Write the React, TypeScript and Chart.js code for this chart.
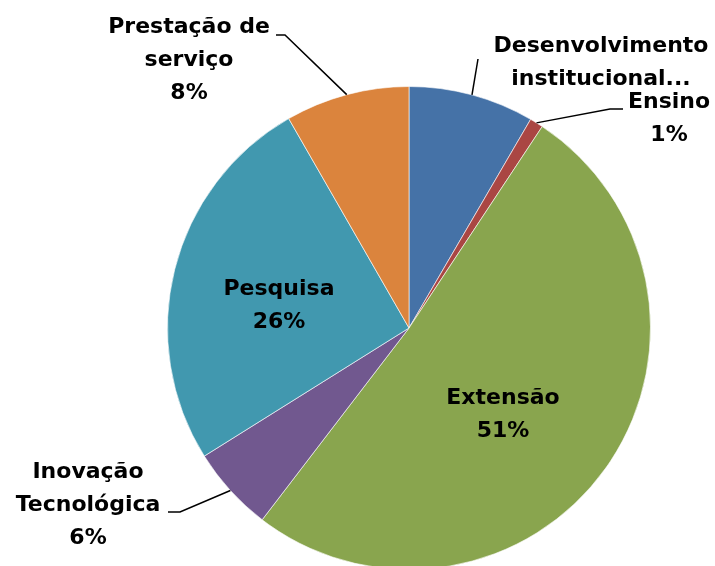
import React, { useEffect, useRef } from "react";
import { Chart, registerables } from "chart.js";
Chart.register(...registerables);

const categories = [
  "Desenvolvimento institucional",
  "Ensino",
  "Extensão",
  "Inovação Tecnológica",
  "Pesquisa",
  "Prestação de serviço",
];
const values = [8.4, 0.9, 51.1, 5.7, 25.6, 8.3];
const colors = ["#4572A7", "#AA4643", "#89A54E", "#71588F", "#4198AF", "#DB843D"];
// wrapped label text per slice (percent appended unless hidden)
const labelText = [
  ["Desenvolvimento", "institucional..."],
  ["Ensino"],
  ["Extensão"],
  ["Inovação", "Tecnológica"],
  ["Pesquisa"],
  ["Prestação de", "serviço"],
];
const showPercent = [false, true, true, true, true, true];

// label layout: first-line center and leader-line points (label end → elbow)
const labelLayout = [
  { x: 601, y: 46, leader: [[478, 59]] },
  { x: 669, y: 102, leader: [[623, 109], [610, 109]] },
  { x: 503, y: 398, leader: [] },
  { x: 88, y: 472, leader: [[168, 512], [180, 512]] },
  { x: 279, y: 289, leader: [] },
  { x: 189, y: 27, leader: [[276, 35], [285, 35]] },
];

const FONT = 'bold 22px "DejaVu Sans", sans-serif';
const LINE_H = 33;

const labelPlugin = {
  id: "pieLabels",
  afterDraw(chart: any) {
    const ctx = chart.ctx;
    const meta = chart.getDatasetMeta(0);
    const total = values.reduce((a, b) => a + b, 0);
    ctx.save();
    meta.data.forEach((arc: any, i: number) => {
      const lay = labelLayout[i];
      const { x, y, startAngle, endAngle, outerRadius } = arc.getProps(
        ["x", "y", "startAngle", "endAngle", "outerRadius"],
        true
      );
      if (lay.leader.length) {
        const mid = (startAngle + endAngle) / 2;
        const ax = x + Math.cos(mid) * outerRadius;
        const ay = y + Math.sin(mid) * outerRadius;
        ctx.beginPath();
        ctx.strokeStyle = "#000";
        ctx.lineWidth = 1.5;
        ctx.moveTo(lay.leader[0][0], lay.leader[0][1]);
        for (let k = 1; k < lay.leader.length; k++) ctx.lineTo(lay.leader[k][0], lay.leader[k][1]);
        ctx.lineTo(ax, ay);
        ctx.stroke();
      }
      const lines = [...labelText[i]];
      if (showPercent[i]) lines.push(Math.round((values[i] / total) * 100) + "%");
      ctx.font = FONT;
      ctx.fillStyle = "#000";
      ctx.textAlign = "center";
      ctx.textBaseline = "middle";
      lines.forEach((t, k) => ctx.fillText(t, lay.x, lay.y + k * LINE_H));
    });
    ctx.restore();
  },
};

export default function App() {
  const ref = useRef<HTMLCanvasElement>(null);
  useEffect(() => {
    const chart = new Chart(ref.current!, {
      type: "pie",
      data: {
        labels: categories,
        datasets: [
          {
            data: values,
            backgroundColor: colors,
            borderColor: "rgba(255,255,255,0.6)",
            borderWidth: 1,
          },
        ],
      },
      options: {
        responsive: false,
        animation: false,
        layout: { padding: { top: 86, bottom: 50, left: 167, right: 64 } },
        plugins: { legend: { display: false }, tooltip: { enabled: false } },
      },
      plugins: [labelPlugin],
    });
    return () => chart.destroy();
  }, []);
  return (
    <div style={{ position: "absolute", left: 0, top: 0, width: 715, height: 566, overflow: "hidden", background: "#fff" }}>
      <canvas ref={ref} width={715} height={620} style={{ display: "block" }} />
    </div>
  );
}
